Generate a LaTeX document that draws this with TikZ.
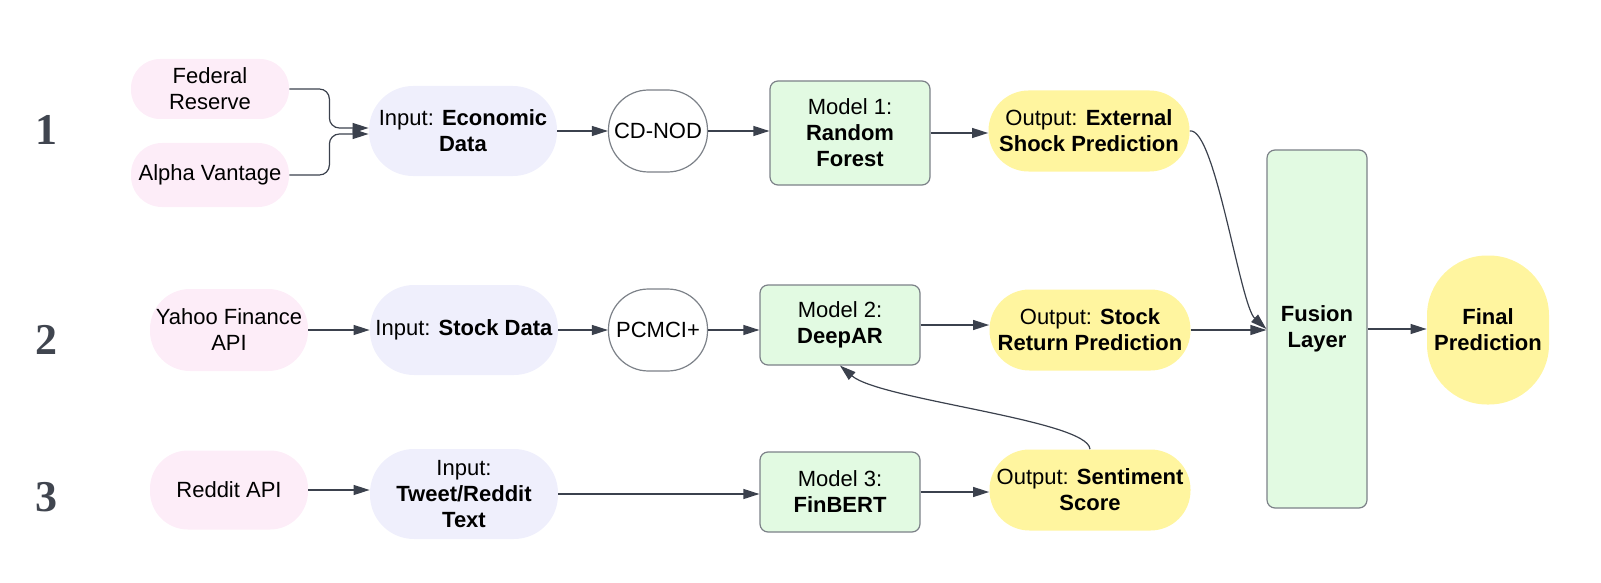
\documentclass[tikz,border=0pt]{standalone}
\usepackage{fontspec}
\setmainfont{Liberation Sans}
\newfontfamily\numfont{Liberation Serif}
\usetikzlibrary{arrows.meta}

\definecolor{srcpink}{HTML}{FDEDF8}
\definecolor{inlav}{HTML}{EFEFFC}
\definecolor{modgreen}{HTML}{E2FAE2}
\definecolor{outyel}{HTML}{FFF59F}
\definecolor{linegray}{HTML}{3B414D}
\definecolor{edgegray}{HTML}{7C8188}
\definecolor{numgray}{HTML}{40454F}

\tikzset{
  txt/.style={font=\fontsize{11}{13}\selectfont, align=center, inner sep=0pt},
  src/.style={txt, rectangle, fill=srcpink, minimum width=79pt},
  inp/.style={txt, rectangle, fill=inlav, minimum width=94pt, minimum height=45pt, rounded corners=22pt},
  algo/.style={txt, rectangle, rounded corners=20pt, draw=edgegray, line width=0.6pt, fill=white, minimum width=49.5pt, minimum height=41pt},
  model/.style={txt, rectangle, rounded corners=4pt, draw=edgegray, line width=0.6pt, fill=modgreen, minimum width=80pt},
  outp/.style={txt, rectangle, fill=outyel, minimum width=100.5pt, minimum height=40.5pt, rounded corners=20pt},
  rownum/.style={font={\numfont\bfseries\fontsize{22}{24}\selectfont}, text=numgray},
  link/.style={draw=linegray, line width=0.6pt, -{Triangle[length=8pt,width=5pt]}}
}

\begin{document}
\begin{tikzpicture}[x=0.5pt, y=-0.5pt]
\useasboundingbox (0,0) rectangle (1601,583);

% row numbers
\node[rownum] (num1) at (46,130) {1};
\node[rownum] (num2) at (46,340) {2};
\node[rownum] (num3) at (46,497) {3};

% row 1
\node[src, minimum height=30pt, rounded corners=14.5pt] (fed) at (210,89) {Federal\\Reserve};
\node[src, minimum height=32pt, rounded corners=15.5pt] (alpha) at (210,175) {Alpha Vantage};
\node[inp] (ineco) at (463,131) {Input: \textbf{Economic}\\\textbf{Data}};
\node[algo] (cdnod) at (658,131) {CD-NOD};
\node[model, minimum height=52pt] (m1) at (850,133) {Model 1:\\\textbf{Random}\\\textbf{Forest}};
\node[outp] (outext) at (1089,131) {Output: \textbf{External}\\\textbf{Shock Prediction}};

% row 2
\node[src, minimum height=41pt, rounded corners=20pt] (yahoo) at (229,330) {Yahoo Finance\\API};
\node[inp] (instock) at (464,330) {Input: \textbf{Stock Data}};
\node[algo] (pcmci) at (658,330) {PCMCI+};
\node[model, minimum height=40pt] (m2) at (840,325) {Model 2:\\\textbf{DeepAR}};
\node[outp] (outstock) at (1090,330) {Output: \textbf{Stock}\\\textbf{Return Prediction}};

% row 3
\node[src, minimum height=39.5pt, rounded corners=19pt] (reddit) at (229,490) {Reddit API};
\node[inp] (intweet) at (464,494) {Input:\\\textbf{Tweet/Reddit}\\\textbf{Text}};
\node[model, minimum height=40pt] (m3) at (840,492) {Model 3:\\\textbf{FinBERT}};
\node[outp] (sent) at (1090,490) {Output: \textbf{Sentiment}\\\textbf{Score}};

% fusion and result
\node[model, minimum width=50pt, minimum height=179pt] (fusion) at (1317,329) {\textbf{Fusion}\\\textbf{Layer}};
\node[txt, fill=outyel, minimum width=61pt, minimum height=74.5pt, rounded corners=30pt] (final) at (1488,330) {\textbf{Final}\\\textbf{Prediction}};

% connectors
\draw[link, rounded corners=5pt] (fed.east) -- ++(40,0) |- ([yshift=1.5pt]ineco.west);
\draw[link, rounded corners=5pt] (alpha.east) -- ++(40,0) |- ([yshift=-1.5pt]ineco.west);
\draw[link] (ineco.east) -- (ineco.east -| cdnod.west);
\draw[link] (cdnod.east) -- (cdnod.east -| m1.west);
\draw[link] (m1.east) -- (m1.east -| outext.west);
\draw[link] (outext.east) .. controls (1215,127) and (1240,305) .. (fusion.west);

\draw[link] (yahoo.east) -- (yahoo.east -| instock.west);
\draw[link] (instock.east) -- (instock.east -| pcmci.west);
\draw[link] (pcmci.east) -- (pcmci.east -| m2.west);
\draw[link] (m2.east) -- (m2.east -| outstock.west);
\draw[link] (outstock.east) -- (outstock.east -| fusion.west);

\draw[link] (reddit.east) -- (reddit.east -| intweet.west);
\draw[link] (intweet.east) -- (intweet.east -| m3.west);
\draw[link] (m3.east) -- (m3.east -| sent.west);
\draw[link] (sent.north) .. controls (1088,420) and (880,400) .. (m2.south);

\draw[link] (fusion.east) -- (fusion.east -| final.west);
\end{tikzpicture}
\end{document}
